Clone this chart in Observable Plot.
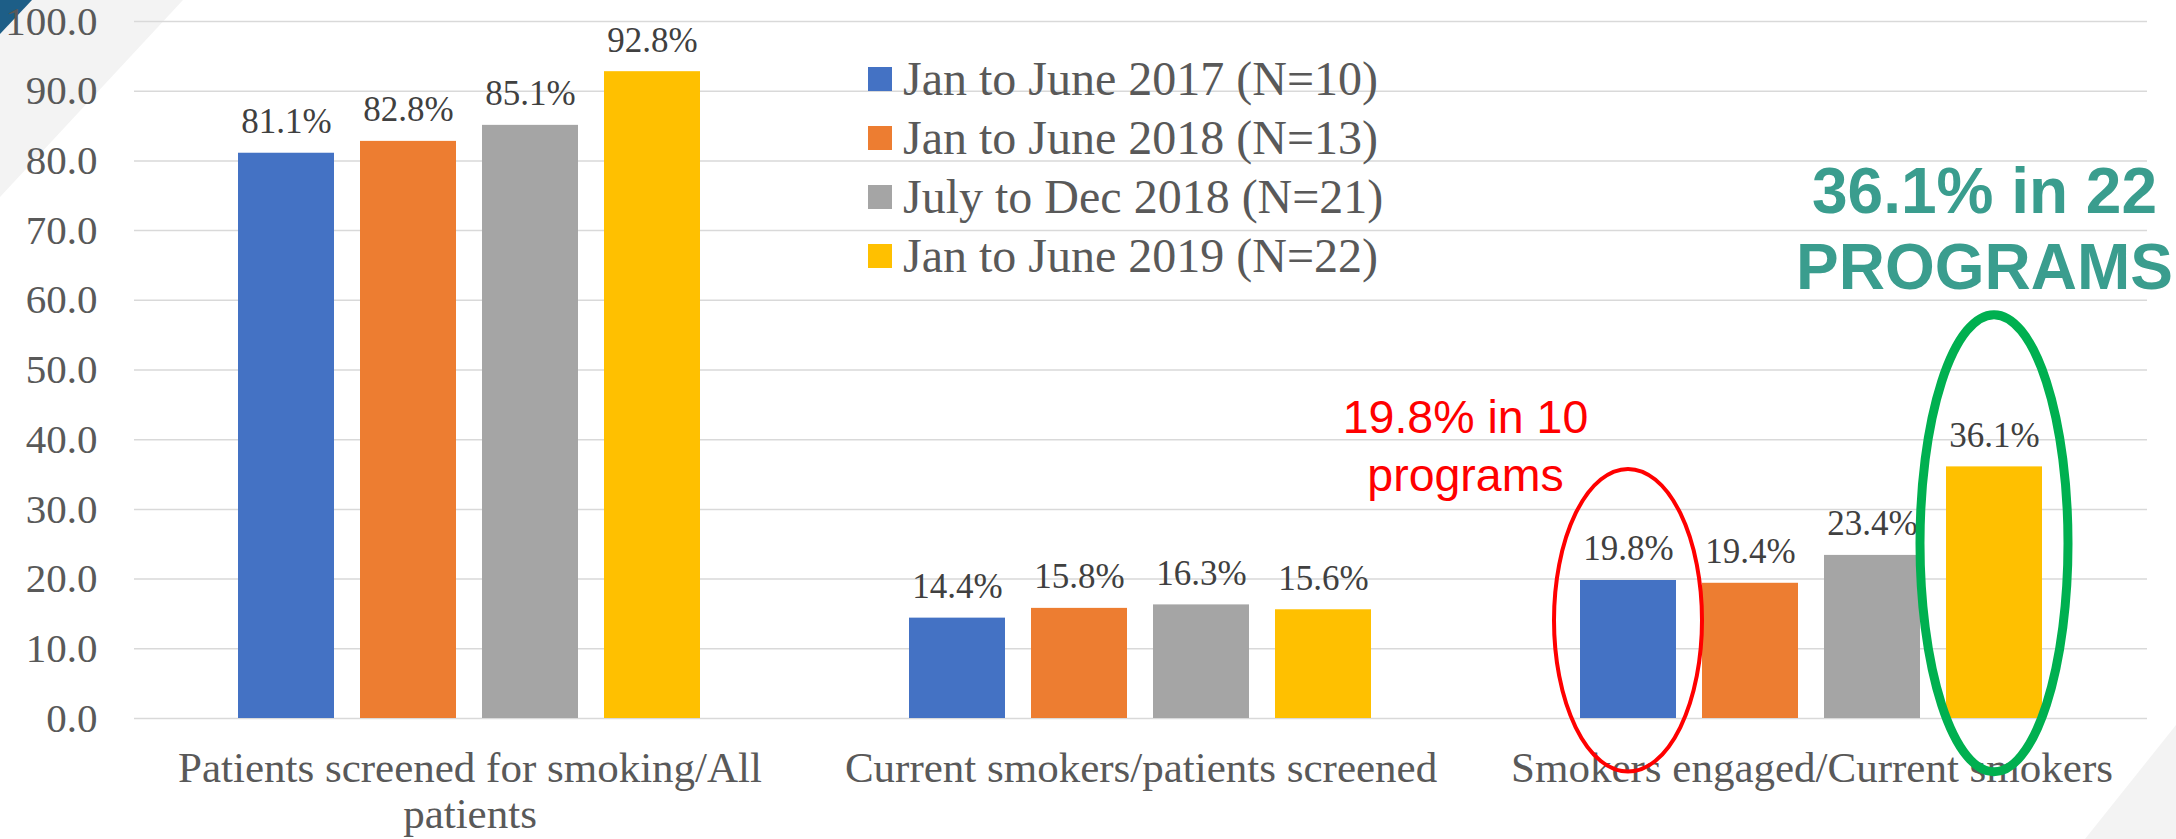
<!DOCTYPE html>
<html>
<head>
<meta charset="utf-8">
<script src="https://cdn.jsdelivr.net/npm/d3@7"></script>
<script src="https://cdn.jsdelivr.net/npm/@observablehq/plot@0.6"></script>
<style>
  html, body { margin: 0; padding: 0; background: #ffffff; }
  #wrap { position: relative; width: 2176px; height: 839px; overflow: hidden; }
  .deco { position: absolute; left: 0; top: 0; width: 2176px; height: 839px; }
  #chart { position: absolute; left: 0; top: 0; }
  #legend { position: absolute; left: 868px; top: 49px; font-family: "Liberation Serif", "Times New Roman", serif; font-size: 48px; color: #595959; }
  .row { display: flex; align-items: center; height: 59px; white-space: nowrap; }
  .sw { width: 24px; height: 24px; margin-right: 11px; flex: none; }
</style>
</head>
<body>
<div id="wrap">
  <div class="deco" style="background:#F3F3F3;clip-path:polygon(0 0,183px 0,0 197px)"></div>
  <div class="deco" style="background:#1D5E87;clip-path:polygon(0 0,32px 0,0 34px)"></div>
  <div class="deco" style="background:#F3F3F3;clip-path:polygon(2176px 725px,2176px 839px,2085px 839px)"></div>
  <div id="chart"></div>
  <div id="legend"></div>
</div>
<script>
// ---- data ----
const categories = [
  "Patients screened for smoking/All patients",
  "Current smokers/patients screened",
  "Smokers engaged/Current smokers"
];
const categoryTickLabels = [
  "Patients screened for smoking/All\npatients",
  "Current smokers/patients screened",
  "Smokers engaged/Current smokers"
];
const seriesNames = [
  "Jan to June 2017 (N=10)",
  "Jan to June 2018 (N=13)",
  "July to Dec 2018 (N=21)",
  "Jan to June 2019 (N=22)"
];
const seriesColors = ["#4472C4", "#ED7D31", "#A5A5A5", "#FFC000"];
const jan2017 = [81.1, 14.4, 19.8];
const jan2018 = [82.8, 15.8, 19.4];
const jul2018 = [85.1, 16.3, 23.4];
const jan2019 = [92.8, 15.6, 36.1];
const yTicks = [0, 10, 20, 30, 40, 50, 60, 70, 80, 90, 100];
const noteRedText = "19.8% in 10\nprograms";
const noteGreenText = "36.1% in 22\nPROGRAMS";

// ---- table ----
const seriesValues = [jan2017, jan2018, jul2018, jan2019];
const rows = categories.flatMap((c, i) =>
  seriesNames.map((s, j) => ({category: c, series: s, value: seriesValues[j][i]})));
const tickLabelOf = new Map(categories.map((c, i) => [c, categoryTickLabels[i]]));

const redNote = [{category: categories[2], series: seriesNames[0], label: noteRedText}];
const greenNote = [{category: categories[2], series: seriesNames[3], label: noteGreenText}];

const serif = '"Liberation Serif", "Times New Roman", serif';
const sans = '"Liberation Sans", Arial, sans-serif';

const chart = Plot.plot({
  width: 2176,
  height: 839,
  marginLeft: 134,
  marginRight: 29,
  marginTop: 21,
  marginBottom: 121,
  style: {fontFamily: serif, background: "transparent", overflow: "visible", color: "#595959"},
  fx: {domain: categories, padding: 0, label: null},
  x: {domain: seriesNames, paddingInner: 0.213, paddingOuter: 0.8565, axis: null},
  y: {domain: [0, 100], label: null},
  color: {domain: seriesNames, range: seriesColors},
  marks: [
    Plot.ruleY(yTicks, {stroke: "#D9D9D9", strokeWidth: 1.5}),
    Plot.barY(rows, {fx: "category", x: "series", y: "value", fill: "series"}),
    Plot.text(rows, {
      fx: "category", x: "series", y: "value",
      text: d => d.value.toFixed(1) + "%",
      lineAnchor: "bottom", dy: -20, fontSize: 35, fill: "#404040", fontFamily: serif
    }),
    Plot.axisY(yTicks, {
      tickSize: 0, tickPadding: 37, tickFormat: d => d.toFixed(1),
      fontSize: 41, color: "#595959", label: null
    }),
    Plot.axisFx({
      anchor: "bottom", tickSize: 0, tickPadding: 30.5, fontSize: 43,
      lineHeight: 1.07, color: "#595959", label: null,
      tickFormat: d => tickLabelOf.get(d)
    }),
    // annotation ellipses (rounded rects with clamped radii)
    Plot.barY(redNote, {
      fx: "category", x: "series", y1: -7.69, y2: 35.74,
      fill: "none", stroke: "#FF0000", strokeWidth: 4, rx: 1000, ry: 1000,
      insetLeft: -26, insetRight: -26
    }),
    Plot.barY(greenNote, {
      fx: "category", x: "series", y1: -7.72, y2: 57.87,
      fill: "none", stroke: "#00B050", strokeWidth: 9, rx: 1000, ry: 1000,
      insetLeft: -26, insetRight: -26
    }),
    Plot.text(redNote, {
      fx: "category", x: "series", y: 32.68, text: "label", dx: -163,
      lineAnchor: "bottom", lineHeight: 1.24, fontSize: 46.5, fill: "#FF0000", fontFamily: sans
    }),
    Plot.text(greenNote, {
      fx: "category", x: "series", y: 61.63, text: "label", dx: -10,
      lineAnchor: "bottom", lineHeight: 1.18, fontSize: 64, fontWeight: "bold", fill: "#3A9D8E", fontFamily: sans
    })
  ]
});
document.getElementById("chart").appendChild(chart);

// ---- legend ----
const legend = document.getElementById("legend");
seriesNames.forEach((s, i) => {
  const row = document.createElement("div");
  row.className = "row";
  const sw = document.createElement("span");
  sw.className = "sw";
  sw.style.background = seriesColors[i];
  const t = document.createElement("span");
  t.textContent = s;
  row.appendChild(sw);
  row.appendChild(t);
  legend.appendChild(row);
});
</script>
</body>
</html>
